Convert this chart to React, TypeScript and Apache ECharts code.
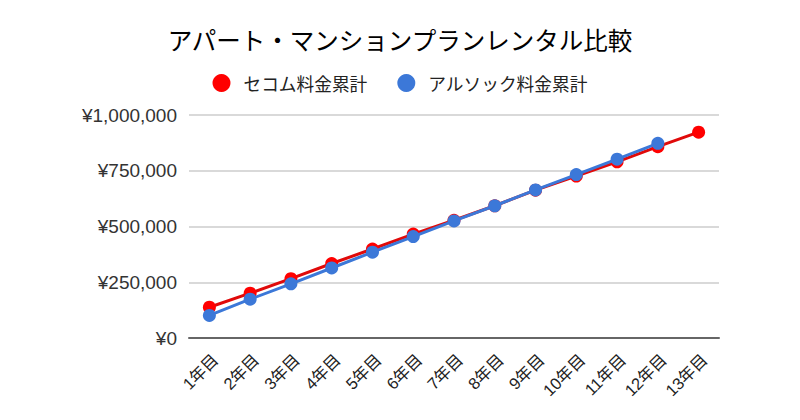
import React, { useEffect, useRef } from "react";
import * as echarts from "echarts";

const titleText = "アパート・マンションプランレンタル比較";
const categories = [
  "1年目", "2年目", "3年目", "4年目", "5年目", "6年目", "7年目",
  "8年目", "9年目", "10年目", "11年目", "12年目", "13年目",
];
const secomName = "セコム料金累計";
const alsokName = "アルソック料金累計";
const secomValues = [
  138000, 201000, 266000, 334000, 399000, 466000, 528000,
  593000, 663000, 726000, 790000, 858000, 923000,
];
const alsokValues = [
  101000, 174000, 243000, 314000, 385000, 455000, 525000,
  593000, 664000, 733000, 802000, 873000,
];
const yTicks = [0, 250000, 500000, 750000, 1000000];

const FONT = '"Liberation Sans", Arial, "Noto Sans CJK JP", sans-serif';
const CJK = '"Noto Sans CJK JP", "Liberation Sans", sans-serif';

function fmtYen(v: number): string {
  return "¥" + v.toLocaleString("en-US");
}

export default function App() {
  const ref = useRef<HTMLDivElement>(null);
  useEffect(() => {
    if (!ref.current) return;
    const chart = echarts.init(ref.current, null, { renderer: "svg" });
    chart.setOption({
      animation: false,
      backgroundColor: "#ffffff",
      title: {
        text: titleText,
        left: "center",
        top: 22,
        textStyle: { fontFamily: CJK, fontSize: 24.5, fontWeight: "normal", color: "#000000" },
      },
      legend: {
        top: 69,
        left: "center",
        icon: "circle",
        itemWidth: 18,
        itemHeight: 18,
        itemGap: 30,
        textStyle: { fontFamily: CJK, fontSize: 17.7, color: "#222222", padding: [0, 0, 0, 8] },
        data: [
          { name: secomName, itemStyle: { color: "#ff0000" } },
          { name: alsokName, itemStyle: { color: "#3c78d8" } },
        ],
      },
      grid: { left: 189, right: 81, top: 115, bottom: 82, containLabel: false },
      xAxis: {
        type: "category",
        data: categories,
        boundaryGap: true,
        axisLine: { show: true, lineStyle: { color: "#666666", width: 2 } },
        axisTick: { show: false },
        axisLabel: {
          rotate: 45,
          interval: 0,
          margin: 13,
          align: "right",
          verticalAlign: "top",
          fontFamily: FONT,
          fontSize: 16.5,
          color: "#222222",
        },
      },
      yAxis: {
        type: "value",
        min: 0,
        max: yTicks[yTicks.length - 1],
        interval: yTicks[1] - yTicks[0],
        axisLine: { show: false },
        axisTick: { show: false },
        splitLine: { lineStyle: { color: "#cccccc", width: 1.5 } },
        axisLabel: {
          margin: 12,
          fontFamily: FONT,
          fontSize: 19,
          color: "#333333",
          formatter: (v: number) => fmtYen(v),
        },
      },
      series: [
        {
          name: secomName,
          type: "line",
          data: secomValues,
          symbol: "circle",
          symbolSize: 13,
          lineStyle: { color: "#e00a0a", width: 3 },
          itemStyle: { color: "#ff0000" },
          z: 2,
        },
        {
          name: alsokName,
          type: "line",
          data: alsokValues,
          symbol: "circle",
          symbolSize: 13,
          lineStyle: { color: "#3c78d8", width: 3 },
          itemStyle: { color: "#3c78d8" },
          z: 3,
        },
      ],
    });
    return () => chart.dispose();
  }, []);
  return (
    <div
      ref={ref}
      style={{ position: "fixed", left: 0, top: 0, width: 800, height: 420 }}
    />
  );
}
